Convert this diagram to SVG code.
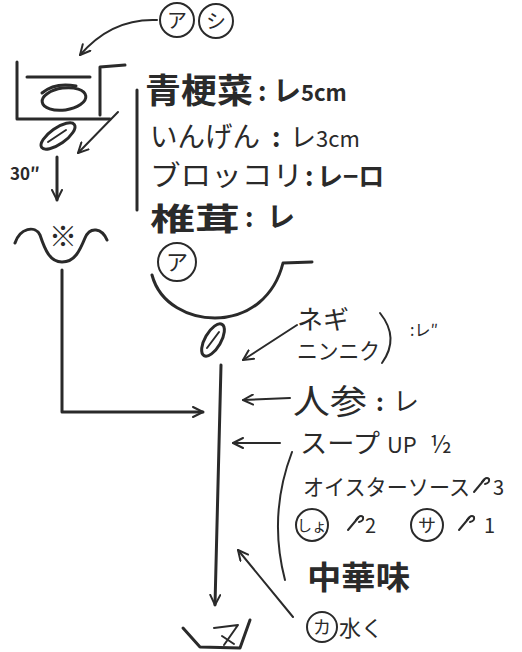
<svg xmlns="http://www.w3.org/2000/svg" width="522" height="652" viewBox="0 0 522 652">
<style>
.s{fill:none;stroke:#2a2a2a;stroke-width:3;stroke-linecap:round;stroke-linejoin:round}
.t{fill:none;stroke:#2a2a2a;stroke-width:2;stroke-linecap:round;stroke-linejoin:round}
text{font-family:"Noto Sans CJK JP","Noto Sans",sans-serif;fill:#2a2a2a}
</style>
<defs>
<marker id="ah" viewBox="0 0 12 12" refX="11" refY="6" markerWidth="12" markerHeight="12" markerUnits="userSpaceOnUse" orient="auto">
<path d="M1,1 L11,6 L1,11" fill="none" stroke="#2a2a2a" stroke-width="2" stroke-linecap="round" stroke-linejoin="round"/>
</marker>
<g id="spoon"><path d="M0,14 L10,2" class="t"/><path d="M8,4 Q12,-2 15,1 Q16,5 11,6" class="t"/></g>
</defs>
<rect width="522" height="652" fill="#ffffff"/>

<g id="connectors">
<path class="t" d="M157,20 Q112,18 80,55" marker-end="url(#ah)"/>
<path class="t" d="M118,112 L78,153" marker-end="url(#ah)"/>
<path class="s" d="M57,157 L57,200" marker-end="url(#ah)"/>
<path class="s" d="M137,90 L137,210"/>
<path class="s" d="M62,270 L62,412 L203,412" marker-end="url(#ah)"/>
<path class="t" d="M297,325 L243,360" marker-end="url(#ah)"/>
<path class="s" d="M221,365 L215,605" marker-end="url(#ah)"/>
<path class="t" d="M290,398 L243,400" marker-end="url(#ah)"/>
<path class="t" d="M280,443 L233,443" marker-end="url(#ah)"/>
<path class="t" d="M293,617 L238,550" marker-end="url(#ah)"/>
</g>

<g id="label-a-top">
<circle class="t" cx="177" cy="20" r="17"/>
<text x="177" y="28" font-size="20" text-anchor="middle">ア</text>
</g>
<g id="label-shi-top">
<circle class="t" cx="216" cy="21" r="17"/>
<text x="216" y="29" font-size="20" text-anchor="middle">シ</text>
</g>

<g id="pot">
<path class="s" d="M17,62 L17,119 L110,119"/>
<path class="s" d="M100,115 L100,67 L125,65"/>
<path class="s" d="M27,77 L90,77"/>
<ellipse class="s" cx="64" cy="99" rx="22" ry="11" transform="rotate(-8 64 99)"/>
<path class="s" d="M42,93 Q55,82 76,86"/>
</g>

<g id="cut-leaf-1">
<ellipse class="s" cx="58" cy="136" rx="20" ry="8" transform="rotate(-35 58 136)"/>
<path class="t" d="M48,142 L66,130"/>
</g>

<g id="boil-time"><text x="10" y="180" font-size="17" font-weight="bold">30″</text></g>

<g id="vegetables">
<text x="145" y="103" font-size="34" font-weight="bold" textLength="108" lengthAdjust="spacingAndGlyphs">青梗菜</text>
<text x="258" y="101" font-size="26" font-weight="bold">:</text>
<text x="273" y="101" font-size="28" font-weight="bold">レ</text>
<text x="301" y="101" font-size="22" font-weight="bold">5cm</text>

<text x="150" y="147" font-size="28" textLength="110" lengthAdjust="spacingAndGlyphs">いんげん</text>
<text x="272" y="147" font-size="26" font-weight="bold">:</text>
<text x="290" y="147" font-size="26">レ</text>
<text x="316" y="147" font-size="22">3cm</text>

<text x="150" y="186" font-size="28" textLength="153" lengthAdjust="spacingAndGlyphs">ブロッコリ</text>
<text x="305" y="186" font-size="26" font-weight="bold">:</text>
<text x="317" y="186" font-size="26" font-weight="bold">レ−ロ</text>

<text x="150" y="230" font-size="31" font-weight="bold" textLength="90" lengthAdjust="spacingAndGlyphs">椎茸</text>
<text x="245" y="227" font-size="26" font-weight="bold">:</text>
<text x="267" y="227" font-size="28" font-weight="bold">レ</text>
</g>

<g id="boil-pot">
<path class="s" d="M15,243 C20,228 35,225 40,235 C45,250 50,262 62,262 C75,262 80,250 85,238 C90,226 102,228 107,240"/>
<text x="63" y="247" font-size="28" font-weight="bold" text-anchor="middle">※</text>
</g>

<g id="wok">
<circle class="t" cx="177" cy="262" r="19"/>
<text x="177" y="270" font-size="22" text-anchor="middle">ア</text>
<path class="s" d="M152,275 C160,305 190,318 215,318 C250,318 275,295 283,263 L312,262"/>
</g>

<g id="cut-leaf-2">
<ellipse class="s" cx="213" cy="340" rx="18" ry="8" transform="rotate(-60 213 340)"/>
<path class="t" d="M207,348 L219,332"/>
</g>

<g id="aromatics">
<text x="297" y="329" font-size="26">ネギ</text>
<text x="297" y="359" font-size="22" textLength="83" lengthAdjust="spacingAndGlyphs">ニンニク</text>
<path class="t" d="M380,313 Q400,338 382,363"/>
<text x="410" y="336" font-size="16">:レ″</text>
</g>

<g id="carrot">
<text x="293" y="414" font-size="34" textLength="74" lengthAdjust="spacingAndGlyphs">人参</text>
<text x="376" y="411" font-size="24" font-weight="bold">:</text>
<text x="393" y="411" font-size="26">レ</text>
</g>

<g id="sauce">
<text x="300" y="453" font-size="26" textLength="80" lengthAdjust="spacingAndGlyphs">スープ</text>
<text x="387" y="453" font-size="22">UP</text>
<text x="430" y="453" font-size="24">½</text>
<path class="t" d="M292,452 Q268,515 285,580"/>
<text x="303" y="495" font-size="22" textLength="167" lengthAdjust="spacingAndGlyphs">オイスターソース</text>
<use href="#spoon" x="474" y="478"/>
<text x="493" y="495" font-size="20">3</text>
<circle class="t" cx="312" cy="525" r="16"/>
<text x="312" y="531" font-size="15" text-anchor="middle">しょ</text>
<use href="#spoon" x="348" y="516"/>
<text x="365" y="533" font-size="20">2</text>
<circle class="t" cx="427" cy="525" r="16"/>
<text x="427" y="532" font-size="18" text-anchor="middle">サ</text>
<use href="#spoon" x="459" y="516"/>
<text x="484" y="533" font-size="20">1</text>
<text x="307" y="589" font-size="32" font-weight="bold" textLength="103" lengthAdjust="spacingAndGlyphs">中華味</text>
</g>

<g id="starch">
<circle class="t" cx="322" cy="627" r="15"/>
<text x="322" y="634" font-size="18" text-anchor="middle">カ</text>
<text x="339" y="636" font-size="22">水く</text>
</g>

<g id="plate">
<path class="s" d="M183,628 L200,647 L240,648 L250,620"/>
<path class="t" d="M214,628 L238,625 L224,645 M222,636 L234,644"/>
</g>
</svg>
